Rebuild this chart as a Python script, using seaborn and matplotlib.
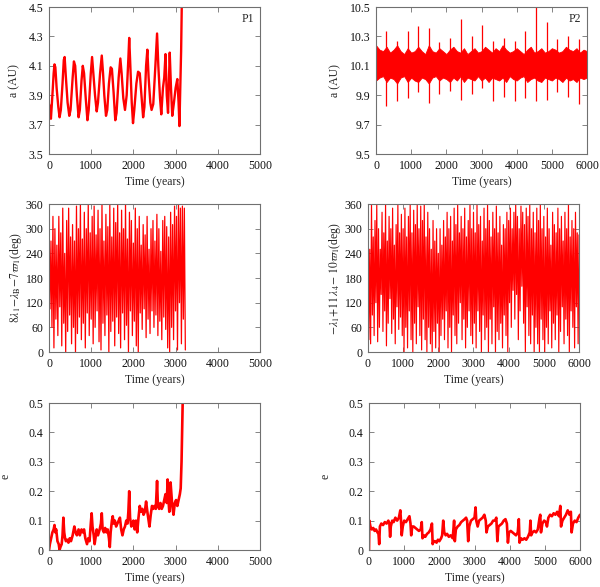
import numpy as np
import matplotlib
matplotlib.use("Agg")
import matplotlib.pyplot as plt
import seaborn as sns
from matplotlib.ticker import FuncFormatter

# --- P1 semi-major axis (years, AU) ---
a1_t = [0, 20, 45, 80, 110, 130, 150, 180, 220, 250, 280, 320, 350, 370, 400, 440, 480, 510,
        560, 590, 620, 660, 700, 730, 770, 800, 830, 870, 910, 940, 990, 1020, 1050, 1090,
        1130, 1160, 1210, 1250, 1280, 1310, 1350, 1380, 1420, 1460, 1490, 1530, 1570, 1600,
        1650, 1690, 1720, 1760, 1800, 1840, 1880, 1900, 1920, 1960, 1990, 2020, 2070, 2110,
        2150, 2190, 2230, 2260, 2300, 2330, 2360, 2400, 2430, 2470, 2520, 2560, 2590, 2630,
        2660, 2700, 2730, 2760, 2790, 2820, 2860, 2890, 2920, 2960, 3000, 3040, 3070, 3090,
        3110, 3130, 3150]
a1_v = [3.84, 3.82, 3.74, 3.90, 4.05, 4.11, 4.09, 3.95, 3.82, 3.75, 3.80, 3.98, 4.14, 4.16,
        4.02, 3.85, 3.76, 3.80, 4.02, 4.13, 4.10, 3.90, 3.75, 3.80, 4.00, 4.10, 4.05, 3.88,
        3.73, 3.80, 4.05, 4.16, 4.05, 3.90, 3.79, 3.85, 4.05, 4.17, 4.05, 3.90, 3.76, 3.80,
        3.98, 4.09, 4.08, 3.92, 3.73, 3.78, 4.02, 4.15, 4.05, 3.88, 3.80, 3.90, 4.15, 4.29,
        4.15, 3.85, 3.71, 3.80, 3.98, 4.06, 4.05, 3.90, 3.75, 3.82, 4.10, 4.21, 4.02, 3.85,
        3.80, 3.84, 4.10, 4.32, 4.10, 3.88, 3.77, 3.95, 4.02, 4.18, 3.90, 3.78, 4.19, 3.95,
        3.76, 3.85, 3.95, 4.01, 3.85, 3.69, 3.95, 4.20, 4.60]

# --- P2 semi-major axis: noisy band plus periodic spikes ---
a2_upper = [10.24, 10.21, 10.20, 10.23, 10.19, 10.21, 10.24, 10.20, 10.18, 10.22,
            10.19, 10.20, 10.23, 10.20, 10.18, 10.24, 10.20, 10.19, 10.22, 10.20,
            10.18, 10.21, 10.23, 10.20, 10.19, 10.22, 10.18, 10.20, 10.22, 10.19,
            10.20, 10.23, 10.21, 10.19, 10.22, 10.20, 10.24, 10.21, 10.19, 10.20,
            10.22, 10.20, 10.18, 10.21, 10.23, 10.19, 10.20, 10.22, 10.19, 10.20,
            10.22, 10.21, 10.19, 10.20, 10.23, 10.21, 10.20, 10.22, 10.19, 10.21,
            10.20]
a2_lower = [10.00, 10.02, 10.03, 9.99, 10.02, 10.01, 9.98, 10.02, 10.03, 9.99,
            10.02, 10.00, 9.99, 10.02, 10.01, 9.98, 10.02, 10.03, 10.00, 10.02,
            10.01, 9.99, 10.02, 10.00, 10.03, 9.99, 10.02, 10.01, 10.00, 10.03,
            10.00, 10.02, 9.99, 10.02, 10.01, 10.00, 10.02, 9.99, 10.03, 10.01,
            10.00, 10.02, 10.03, 9.99, 10.01, 10.02, 10.00, 9.99, 10.02, 10.01,
            10.00, 10.02, 10.01, 9.99, 10.02, 10.00, 10.01, 9.99, 10.02, 10.01,
            10.02]
spike_t = [290, 600, 900, 1190, 1500, 1800, 2110, 2420, 2720, 3010, 3330, 3650, 3950,
           4250, 4550, 4860, 5150, 5460, 5770]
spike_hi = [10.34, 10.27, 10.34, 10.37, 10.36, 10.26, 10.29, 10.42, 10.30, 10.38, 10.27,
            10.29, 10.27, 10.34, 10.50, 10.40, 10.28, 10.30, 10.28]
spike_lo = [9.83, 9.86, 9.88, 9.92, 9.85, 9.91, 9.93, 9.87, 9.91, 9.95, 9.86, 9.89, 9.86,
            9.88, 9.86, 9.87, 9.92, 9.89, 9.84]

# --- resonant angle for P1 (deg), alternating swings, 0..3230 yr ---
phi1 = [345, 105, 270, 60, 330, 10, 300, 80, 260, 40, 330, 110, 290, 15, 350, 70, 240, 0,
        320, 50, 350, 90, 280, 20, 310, 60, 270, 0, 355, 45, 300, 85, 360, 30, 275, 70,
        340, 10, 300, 95, 360, 40, 290, 80, 330, 20, 355, 60, 285, 100, 345, 25, 300, 5,
        360, 70, 270, 40, 335, 90, 305, 0, 360, 50, 280, 75, 350, 15, 315, 85, 360, 45,
        290, 10, 345, 95, 300, 30, 360, 65, 275, 0, 340, 100, 320, 40, 265, 75, 350, 15,
        300, 0, 330, 95, 260, 55, 310, 105, 285, 35, 330, 80, 250, 45, 300, 100, 320, 60,
        270, 90, 335, 40, 300, 75, 245, 30, 320, 85, 330, 55, 305, 10, 280, 0, 340, 60,
        310, 30, 355, 100, 330, 5, 360, 120, 350, 20, 355, 80, 350, 5]
phi1_end = 3230

# --- resonant angle for P2 (deg), 0..6000 yr ---
phi2 = [330, 30, 250, 20, 360, 90, 280, 40, 320, 120, 360, 25, 300, 60, 250, 140, 340, 50,
        290, 100, 360, 15, 270, 70, 330, 130, 300, 45, 350, 80, 260, 20, 310, 110, 360, 55,
        290, 85, 335, 40,
        300, 0, 350, 60, 280, 10, 330, 100, 360, 30, 290, 0, 345, 70, 310, 20, 360, 110,
        300, 40, 355, 5, 320, 80, 360, 30, 280, 0, 340, 60, 300, 20, 250, 0, 320, 50,
        270, 10, 300, 70,
        240, 0, 300, 40, 260, 80, 320, 30, 280, 100, 340, 10, 300, 60, 330, 0, 270, 90,
        350, 40, 310, 20, 360, 70, 290, 120, 330, 30, 300, 80, 350, 10, 280, 60, 320, 100,
        360, 40, 300, 20,
        340, 70, 290, 10, 360, 100, 310, 50, 330, 0, 270, 90, 350, 30, 300, 60, 360, 0,
        320, 80, 280, 20, 340, 110, 300, 0, 355, 50, 290, 30, 330, 70, 260, 10, 310, 90,
        300, 40, 340, 0,
        320, 120, 350, 60, 300, 150, 340, 80, 360, 140, 330, 30, 300, 100, 355, 160, 340, 70,
        310, 0, 350, 110, 330, 40, 360, 20, 300, 90, 340, 0, 290, 60, 350, 20, 320, 0,
        360, 80, 300, 30,
        330, 0, 280, 60, 350, 20, 300, 100, 260, 10, 340, 70, 310, 30, 290, 90, 350, 0,
        300, 50, 330, 110, 270, 20, 340, 80, 300, 40, 360, 0, 280, 100, 320, 60, 300, 10,
        340, 110, 290, 20, 285]
phi2_end = 6000

# --- P1 eccentricity ---
e1_t = [0, 20, 50, 80, 110, 130, 150, 170, 200, 230, 250, 270, 300, 320, 340, 360, 380, 400,
        430, 460, 490, 520, 560, 600, 630, 660, 700, 730, 770, 800, 830, 860, 900, 930, 960,
        990, 1010, 1030, 1060, 1080, 1100, 1130, 1160, 1200, 1230, 1250, 1270, 1300, 1330,
        1360, 1390, 1420, 1440, 1460, 1490, 1510, 1530, 1560, 1590, 1620, 1650, 1680, 1710,
        1740, 1770, 1800, 1830, 1860, 1880, 1900, 1920, 1950, 1980, 2000, 2030, 2060, 2090,
        2120, 2150, 2180, 2210, 2240, 2270, 2300, 2330, 2360, 2380, 2410, 2440, 2470, 2500,
        2530, 2560, 2580, 2610, 2640, 2670, 2700, 2730, 2760, 2790, 2810, 2830, 2850, 2880,
        2900, 2920, 2950, 2980, 3010, 3040, 3070, 3100, 3120, 3140, 3160, 3180]
e1_v = [0.0, 0.02, 0.04, 0.06, 0.07, 0.085, 0.06, 0.07, 0.03, 0.02, 0.0, 0.01, 0.02, 0.05,
        0.11, 0.06, 0.04, 0.03, 0.035, 0.025, 0.04, 0.03, 0.05, 0.08, 0.06, 0.05, 0.07, 0.05,
        0.07, 0.06, 0.07, 0.04, 0.02, 0.04, 0.03, 0.09, 0.125, 0.08, 0.05, 0.02, 0.04, 0.07,
        0.05, 0.07, 0.09, 0.125, 0.07, 0.06, 0.075, 0.06, 0.07, 0.04, 0.01, 0.06, 0.10, 0.115,
        0.09, 0.10, 0.08, 0.09, 0.10, 0.11, 0.07, 0.05, 0.07, 0.08, 0.10, 0.09, 0.13, 0.20,
        0.11, 0.08, 0.09, 0.10, 0.07, 0.10, 0.06, 0.11, 0.15, 0.13, 0.14, 0.12, 0.13, 0.165,
        0.13, 0.10, 0.08, 0.12, 0.15, 0.14, 0.15, 0.14, 0.235, 0.15, 0.14, 0.16, 0.14, 0.15,
        0.17, 0.19, 0.16, 0.24, 0.17, 0.13, 0.23, 0.19, 0.15, 0.12, 0.16, 0.17, 0.15, 0.17,
        0.19, 0.21, 0.30, 0.45, 0.60]

# --- P2 eccentricity ---
e2_t = [0, 10, 40, 80, 120, 160, 200, 240, 270, 290, 310, 350, 400, 450, 500, 550, 580, 600,
        620, 660, 700, 750, 800, 850, 890, 910, 930, 960, 1000, 1050, 1100, 1150, 1180, 1200,
        1230, 1270, 1320, 1370, 1420, 1470, 1500, 1520, 1560, 1600, 1650, 1700, 1750, 1790,
        1810, 1840, 1880, 1920, 1960, 2000, 2050, 2080, 2110, 2140, 2180, 2220, 2270, 2320,
        2380, 2420, 2440, 2470, 2520, 2570, 2620, 2670, 2720, 2760, 2790, 2820, 2850, 2900,
        2950, 3000, 3030, 3050, 3090, 3130, 3180, 3230, 3280, 3320, 3340, 3380, 3430, 3480,
        3530, 3580, 3620, 3650, 3680, 3730, 3780, 3830, 3880, 3920, 3950, 3980, 4030, 4080,
        4130, 4180, 4230, 4260, 4280, 4320, 4370, 4420, 4470, 4520, 4570, 4590, 4610, 4650,
        4700, 4750, 4800, 4850, 4870, 4890, 4930, 4980, 5030, 5060, 5100, 5150, 5200, 5250,
        5300, 5350, 5400, 5440, 5460, 5500, 5550, 5600, 5650, 5700, 5740, 5760, 5800, 5850,
        5900, 5950, 6000]
e2_v = [0.0, 0.10, 0.08, 0.07, 0.075, 0.065, 0.07, 0.06, 0.055, 0.02, 0.08, 0.09, 0.085,
        0.095, 0.09, 0.10, 0.09, 0.045, 0.08, 0.10, 0.095, 0.11, 0.10, 0.11, 0.135, 0.10,
        0.05, 0.08, 0.10, 0.095, 0.105, 0.115, 0.09, 0.05, 0.08, 0.08, 0.075, 0.07, 0.065,
        0.07, 0.095, 0.04, 0.05, 0.045, 0.055, 0.06, 0.07, 0.09, 0.02, 0.03, 0.03, 0.025,
        0.035, 0.03, 0.04, 0.05, 0.10, 0.06, 0.05, 0.055, 0.045, 0.05, 0.04, 0.10, 0.03,
        0.07, 0.08, 0.085, 0.095, 0.10, 0.105, 0.11, 0.10, 0.03, 0.08, 0.10, 0.105, 0.11,
        0.145, 0.10, 0.08, 0.10, 0.105, 0.11, 0.12, 0.10, 0.06, 0.08, 0.085, 0.09, 0.10,
        0.10, 0.11, 0.03, 0.08, 0.085, 0.09, 0.10, 0.105, 0.09, 0.025, 0.06, 0.065, 0.06,
        0.055, 0.05, 0.06, 0.105, 0.025, 0.04, 0.035, 0.04, 0.035, 0.045, 0.06, 0.10, 0.05,
        0.06, 0.065, 0.06, 0.07, 0.11, 0.12, 0.06, 0.09, 0.10, 0.095, 0.08, 0.11, 0.12,
        0.115, 0.125, 0.12, 0.13, 0.115, 0.15, 0.08, 0.10, 0.11, 0.12, 0.135, 0.12, 0.13,
        0.06, 0.09, 0.10, 0.095, 0.11, 0.12]

RED = "#ff0000"
FS = 8.5

sns.set_theme(style="ticks")
plt.rcParams["font.family"] = ["Liberation Serif", "DejaVu Serif"]
plt.rcParams["mathtext.fontset"] = "stix"
plt.rcParams["axes.edgecolor"] = "#707070"
plt.rcParams["axes.linewidth"] = 0.8

fig = plt.figure(figsize=(6.0, 5.87), dpi=100)
ax_a1 = fig.add_axes([0.0817, 0.7376, 0.3517, 0.2504])
ax_a2 = fig.add_axes([0.6267, 0.7376, 0.3517, 0.2504])
ax_p1 = fig.add_axes([0.0817, 0.4003, 0.3517, 0.2521])
ax_p2 = fig.add_axes([0.6133, 0.4003, 0.3517, 0.2521])
ax_e1 = fig.add_axes([0.0817, 0.0630, 0.3517, 0.2504])
ax_e2 = fig.add_axes([0.6150, 0.0630, 0.3517, 0.2504])

# top row
sns.lineplot(x=a1_t, y=a1_v, ax=ax_a1, color=RED, lw=1.7, estimator=None, sort=False)
band_t = np.linspace(0, 6000, len(a2_upper))
ax_a2.fill_between(band_t, a2_lower, a2_upper, color=RED, lw=0.6)
ax_a2.vlines(spike_t, spike_lo, spike_hi, color=RED, lw=0.9)

# middle row
sns.lineplot(x=np.linspace(0, phi1_end, len(phi1)), y=phi1, ax=ax_p1, color=RED,
             lw=0.9, estimator=None, sort=False)
sns.lineplot(x=np.linspace(0, phi2_end, len(phi2)), y=phi2, ax=ax_p2, color=RED,
             lw=0.85, estimator=None, sort=False)

# bottom row
sns.lineplot(x=e1_t, y=e1_v, ax=ax_e1, color=RED, lw=1.9, estimator=None, sort=False)
sns.lineplot(x=e2_t, y=e2_v, ax=ax_e2, color=RED, lw=1.9, estimator=None, sort=False)

fmt = FuncFormatter(lambda v, _: "%g" % round(v, 2))
fmt1 = FuncFormatter(lambda v, _: "%.1f" % v)

for ax, xmax in [(ax_a1, 5000), (ax_p1, 5000), (ax_e1, 5000),
                 (ax_a2, 6000), (ax_p2, 6000), (ax_e2, 6000)]:
    ax.set_xlim(0, xmax)
    ax.set_xticks(np.arange(0, xmax + 1, 1000))
    ax.xaxis.set_major_formatter(FuncFormatter(lambda v, _: "%d" % v))
    ax.set_xlabel("Time (years)", fontsize=FS, labelpad=3)
    ax.tick_params(direction="in", top=True, right=True, length=3.5, width=0.6,
                   labelsize=FS, pad=4, colors="#707070", labelcolor="#111111")
    for s in ax.spines.values():
        s.set_visible(True)

ax_a1.set_ylim(3.5, 4.5)
ax_a1.set_yticks(np.arange(3.5, 4.51, 0.2))
ax_a1.yaxis.set_major_formatter(fmt1)
ax_a1.set_ylabel("a (AU)", fontsize=FS, labelpad=6)
ax_a1.text(0.97, 0.96, "P1", transform=ax_a1.transAxes, ha="right", va="top", fontsize=FS)

ax_a2.set_ylim(9.5, 10.5)
ax_a2.set_yticks(np.arange(9.5, 10.51, 0.2))
ax_a2.yaxis.set_major_formatter(fmt1)
ax_a2.set_ylabel("a (AU)", fontsize=FS, labelpad=6)
ax_a2.text(0.97, 0.96, "P2", transform=ax_a2.transAxes, ha="right", va="top", fontsize=FS)

for ax in (ax_p1, ax_p2):
    ax.set_ylim(0, 360)
    ax.set_yticks(np.arange(0, 361, 60))
ax_p1.set_ylabel(r"$8\lambda_1\!-\!\lambda_{\rm B}\!-\!7\varpi_1$(deg)", fontsize=FS, labelpad=1)
ax_p2.set_ylabel(r"$-\lambda_1\!+\!11\,\lambda_4\!-\,10\varpi_1$(deg)", fontsize=FS, labelpad=1)

for ax in (ax_e1, ax_e2):
    ax.set_ylim(0, 0.5)
    ax.set_yticks(np.arange(0, 0.51, 0.1))
    ax.yaxis.set_major_formatter(fmt)
    ax.set_ylabel("e", fontsize=FS, labelpad=12, rotation=90)

fig.savefig("out.png", dpi=100)
